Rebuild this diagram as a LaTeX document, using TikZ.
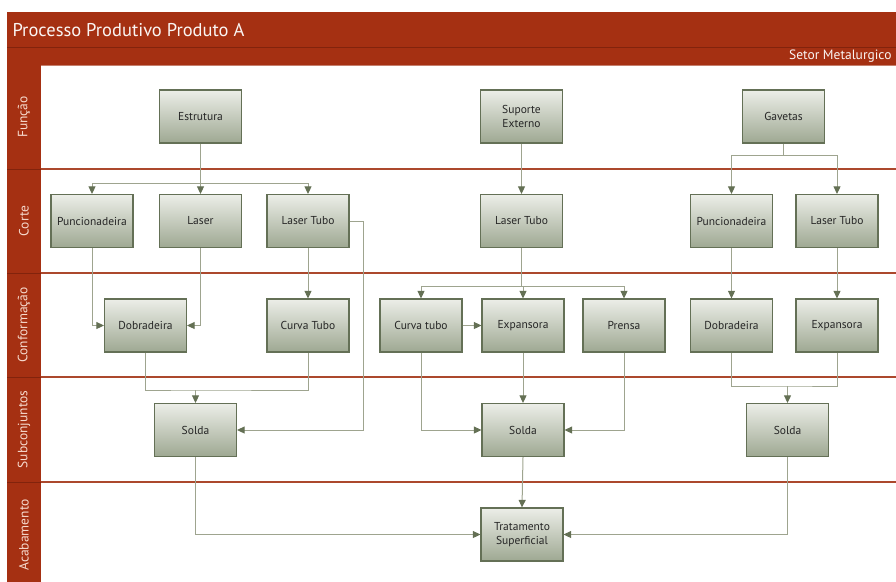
\documentclass[tikz,border=0pt]{standalone}
\usepackage{fontspec}
\setmainfont{PT Sans}
\usetikzlibrary{arrows.meta}
\definecolor{hdr}{RGB}{165,48,18}
\definecolor{hdrline}{RGB}{130,35,12}
\definecolor{lanel}{RGB}{172,72,45}
\definecolor{boxtop}{RGB}{236,238,232}
\definecolor{boxbot}{RGB}{158,168,146}
\definecolor{boxdraw}{RGB}{100,112,86}
\definecolor{connc}{RGB}{158,164,143}
\definecolor{tipc}{RGB}{100,112,84}
\definecolor{lbltext}{RGB}{246,218,206}
\begin{document}
\begin{tikzpicture}[x=1pt,y=-1pt,
  procbox/.style={draw=boxdraw,line width=1.2pt,top color=boxtop,bottom color=boxbot,
    minimum width=82pt,minimum height=53pt,inner sep=1pt,align=center,
    font=\fontsize{11.5}{13.5}\selectfont,text=black!85},
  conn/.style={draw=connc,line width=1pt},
  arr/.style={conn,-{Triangle[length=7.5pt,width=7pt,color=tipc]}},
  lanetxt/.style={rotate=90,text=lbltext,font=\fontsize{13.5}{16}\selectfont},
  laneline/.style={draw=lanel,line width=1.4pt},
  colline/.style={draw=hdrline,line width=1pt}]
\useasboundingbox (0,0) rectangle (896,581);
\clip (0,0) rectangle (896,581);
% header and lane label column
\fill[hdr] (7,12) rectangle (900,65);
\draw[colline] (7,47) -- (900,47);
\fill[hdr] (7,65) rectangle (41,590);
\draw[draw=lanel!70,line width=1pt] (41,65) -- (900,65);
\foreach \yy in {169,273,377,482} {
  \draw[colline] (7,\yy) -- (41,\yy);
  \draw[laneline] (41,\yy) -- (900,\yy);
}
\node[anchor=west,text=white!95!hdr,font=\fontsize{18.5}{22}\selectfont] (title) at (9,30) {Processo Produtivo Produto A};
\node[anchor=east,text=white!95!hdr,font=\fontsize{13.5}{16}\selectfont] (setor) at (895,56.5) {Setor Metalurgico};
\node[lanetxt] (lfun) at (24,117) {Função};
\node[lanetxt] (lcor) at (24,221) {Corte};
\node[lanetxt] (lconf) at (24,325) {Conformação};
\node[lanetxt] (lsub) at (24,429.5) {Subconjuntos};
\node[lanetxt] (lacab) at (24,535) {Acabamento};
% Função
\node[procbox] (estr) at (200.5,116.5) {Estrutura};
\node[procbox] (supe) at (521.5,116.5) {Suporte\\Externo};
\node[procbox] (gave) at (783.5,116.5) {Gavetas};
% Corte
\node[procbox] (punA) at (92,221) {Puncionadeira};
\node[procbox] (lasA) at (200.5,221) {Laser};
\node[procbox] (ltA) at (308,221) {Laser Tubo};
\node[procbox] (ltB) at (521.5,221) {Laser Tubo};
\node[procbox] (punC) at (731.5,221) {Puncionadeira};
\node[procbox] (ltC) at (837,221) {Laser Tubo};
% Conformação
\node[procbox] (dobA) at (145.5,325.5) {Dobradeira};
\node[procbox] (ctA) at (308,325.5) {Curva Tubo};
\node[procbox] (ctB) at (421,325.5) {Curva tubo};
\node[procbox] (expB) at (523,325.5) {Expansora};
\node[procbox] (preB) at (624,325.5) {Prensa};
\node[procbox] (dobC) at (731.5,325.5) {Dobradeira};
\node[procbox] (expC) at (837,325.5) {Expansora};
% Subconjuntos
\node[procbox] (solA) at (195.5,430) {Solda};
\node[procbox] (solB) at (523,430) {Solda};
\node[procbox] (solC) at (787.5,430) {Solda};
% Acabamento
\node[procbox] (trat) at (522,534.5) {Tratamento\\Superficial};
% connector helper points
\coordinate (sA) at (200.5,183);
\coordinate (mA) at (195.5,390);
\coordinate (rA) at (363,430);
\coordinate (sB) at (521.5,286);
\coordinate (sC) at (783.5,155);
\coordinate (mC) at (787.5,386);
% left column connectors
\draw[arr] (estr.south) -- (lasA.north);
\draw[arr] (sA) -| (punA.north);
\draw[arr] (sA) -| (ltA.north);
\draw[arr] (punA.south) |- (dobA.west);
\draw[arr] (lasA.south) |- (dobA.east);
\draw[arr] (ltA.south) -- (ctA.north);
\draw[arr] (ltA.east) -| (rA) -- (solA.east);
\draw[conn] (dobA.south) |- (mA) -| (ctA.south);
\draw[arr] (mA) -- (solA.north);
\draw[arr] (solA.south) |- (trat.west);
% middle connectors
\draw[arr] (supe.south) -- (ltB.north);
\draw[conn] (ltB.south) -- (sB);
\draw[arr] (sB) -| (ctB.north);
\draw[arr] (sB) -| (preB.north);
\draw[arr] (sB) -| (expB.north);
\draw[arr] (ctB.east) -- (expB.west);
\draw[arr] (ctB.south) |- (solB.west);
\draw[arr] (expB.south) -- (solB.north);
\draw[arr] (preB.south) |- (solB.east);
\draw[arr] (solB.south) -- (trat.north);
% right connectors
\draw[conn] (gave.south) -- (sC);
\draw[arr] (sC) -| (punC.north);
\draw[arr] (sC) -| (ltC.north);
\draw[arr] (punC.south) -- (dobC.north);
\draw[arr] (ltC.south) -- (expC.north);
\draw[conn] (dobC.south) |- (mC) -| (expC.south);
\draw[arr] (mC) -- (solC.north);
\draw[arr] (solC.south) |- (trat.east);
\end{tikzpicture}
\end{document}
